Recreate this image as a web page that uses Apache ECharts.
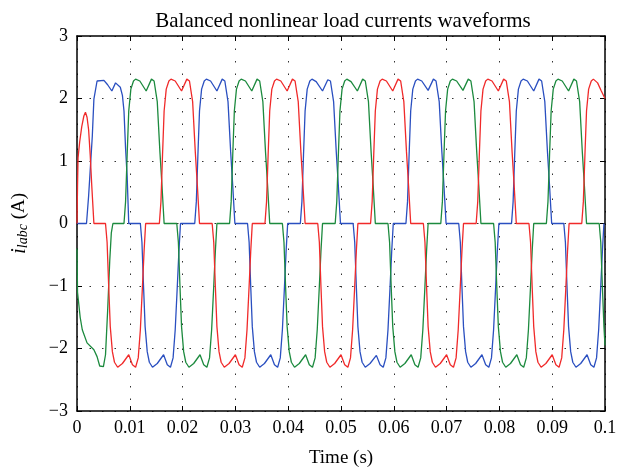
<!DOCTYPE html>
<html>
<head>
<meta charset="utf-8">
<script src="https://cdn.jsdelivr.net/npm/echarts@6/dist/echarts.min.js"></script>
<style>
  html, body { margin: 0; padding: 0; background: #fff; }
  #main { width: 617px; height: 469px; }
</style>
</head>
<body>
<div id="main"></div>
<script>
// time in ms, current in A
const blueCurrent = [
  [0,0],[1.8,0],[2.2,0.44],[2.9,1.4],[3.2,1.99],[3.8,2.28],[5.1,2.29],[5.8,2.22],[6.6,2.12],[7.3,2.25],[8.2,2.18],[8.6,2.05],[8.9,1.8],[9.2,1.2],[9.5,0.75],[9.8,0],
  [12.0,0],[12.3,-0.3],[12.6,-1.0],[12.9,-1.65],[13.3,-2.05],[13.7,-2.22],[14.3,-2.3],[15.2,-2.24],[16.4,-2.1],[17.1,-2.26],[17.7,-2.3],[18.2,-2.15],[18.6,-1.7],[19.0,-1.0],[19.3,-0.45],[19.6,0],
  [22.3,0],[22.6,0.35],[22.9,1.1],[23.2,1.8],[23.6,2.15],[24.1,2.28],[24.5,2.31],[25.3,2.28],[26.5,2.12],[27.5,2.31],[28.0,2.28],[28.6,1.95],[29.1,1.15],[29.5,0.6],[29.9,0],
  [32.3,0],[32.6,-0.3],[32.9,-1.0],[33.2,-1.65],[33.6,-2.05],[34.0,-2.22],[34.6,-2.3],[35.5,-2.24],[36.7,-2.1],[37.4,-2.26],[38.0,-2.3],[38.5,-2.15],[38.9,-1.7],[39.3,-1.0],[39.6,-0.45],[39.9,0],
  [42.3,0],[42.6,0.35],[42.9,1.1],[43.2,1.8],[43.6,2.15],[44.1,2.28],[44.5,2.31],[45.3,2.27],[46.5,2.12],[47.5,2.3],[48.0,2.28],[48.6,1.95],[49.1,1.15],[49.5,0.6],[49.9,0],
  [52.3,0],[52.6,-0.3],[52.9,-1.0],[53.2,-1.65],[53.6,-2.05],[54.0,-2.22],[54.6,-2.3],[55.5,-2.24],[56.7,-2.11],[57.4,-2.26],[58.0,-2.3],[58.5,-2.15],[58.9,-1.7],[59.3,-1.0],[59.6,-0.45],[59.9,0],
  [62.3,0],[62.6,0.35],[62.9,1.1],[63.2,1.8],[63.6,2.15],[64.1,2.28],[64.5,2.31],[65.3,2.28],[66.5,2.13],[67.5,2.31],[68.0,2.28],[68.6,1.95],[69.1,1.15],[69.5,0.6],[69.9,0],
  [72.3,0],[72.6,-0.3],[72.9,-1.0],[73.2,-1.65],[73.6,-2.05],[74.0,-2.22],[74.6,-2.3],[75.5,-2.24],[76.7,-2.1],[77.4,-2.26],[78.0,-2.3],[78.5,-2.15],[78.9,-1.7],[79.3,-1.0],[79.6,-0.45],[79.9,0],
  [82.3,0],[82.6,0.35],[82.9,1.1],[83.2,1.8],[83.6,2.15],[84.1,2.28],[84.5,2.31],[85.3,2.28],[86.5,2.12],[87.5,2.31],[88.0,2.28],[88.6,1.95],[89.1,1.15],[89.5,0.6],[89.9,0],
  [92.2,0],[92.5,-0.3],[92.8,-1.0],[93.1,-1.65],[93.5,-2.05],[93.9,-2.22],[94.5,-2.3],[95.4,-2.24],[96.6,-2.1],[97.3,-2.26],[97.9,-2.3],[98.4,-2.15],[98.8,-1.7],[99.2,-1.0],[99.5,-0.45],[99.8,0]
];

const greenCurrent = [
  [0,-0.4],[0.1,-1.1],[0.6,-1.5],[1.0,-1.7],[1.9,-1.91],[3.2,-2.02],[3.8,-2.13],[4.3,-2.28],[5.0,-2.29],[5.4,-2.1],[5.8,-1.4],[6.2,-0.6],[6.5,-0.15],[6.8,0],
  [8.9,0],[9.2,0.35],[9.5,1.1],[9.8,1.8],[10.2,2.15],[10.7,2.28],[11.1,2.31],[11.9,2.28],[13.1,2.12],[14.1,2.31],[14.6,2.28],[15.2,1.95],[15.7,1.15],[16.1,0.6],[16.5,0],
  [18.9,0],[19.2,-0.3],[19.5,-1.0],[19.8,-1.65],[20.2,-2.05],[20.6,-2.22],[21.2,-2.3],[22.1,-2.24],[23.3,-2.1],[24.0,-2.26],[24.6,-2.3],[25.1,-2.15],[25.5,-1.7],[25.9,-1.0],[26.2,-0.45],[26.5,0],
  [28.9,0],[29.2,0.35],[29.5,1.1],[29.8,1.8],[30.2,2.15],[30.7,2.28],[31.1,2.31],[31.9,2.28],[33.1,2.12],[34.1,2.31],[34.6,2.28],[35.2,1.95],[35.7,1.15],[36.1,0.6],[36.5,0],
  [38.9,0],[39.2,-0.3],[39.5,-1.0],[39.8,-1.65],[40.2,-2.05],[40.6,-2.22],[41.2,-2.3],[42.1,-2.24],[43.3,-2.1],[44.0,-2.26],[44.6,-2.3],[45.1,-2.15],[45.5,-1.7],[45.9,-1.0],[46.2,-0.45],[46.5,0],
  [48.9,0],[49.2,0.35],[49.5,1.1],[49.8,1.8],[50.2,2.15],[50.7,2.28],[51.1,2.31],[51.9,2.27],[53.1,2.12],[54.1,2.31],[54.6,2.28],[55.2,1.95],[55.7,1.15],[56.1,0.6],[56.5,0],
  [58.9,0],[59.2,-0.3],[59.5,-1.0],[59.8,-1.65],[60.2,-2.05],[60.6,-2.22],[61.2,-2.3],[62.1,-2.24],[63.3,-2.1],[64.0,-2.26],[64.6,-2.3],[65.1,-2.15],[65.5,-1.7],[65.9,-1.0],[66.2,-0.45],[66.5,0],
  [68.9,0],[69.2,0.35],[69.5,1.1],[69.8,1.8],[70.2,2.15],[70.7,2.28],[71.1,2.31],[71.9,2.28],[73.1,2.13],[74.1,2.31],[74.6,2.28],[75.2,1.95],[75.7,1.15],[76.1,0.6],[76.5,0],
  [78.9,0],[79.2,-0.3],[79.5,-1.0],[79.8,-1.65],[80.2,-2.05],[80.6,-2.22],[81.2,-2.3],[82.1,-2.24],[83.3,-2.1],[84.0,-2.26],[84.6,-2.3],[85.1,-2.15],[85.5,-1.7],[85.9,-1.0],[86.2,-0.45],[86.5,0],
  [88.9,0],[89.2,0.35],[89.5,1.1],[89.8,1.8],[90.2,2.15],[90.7,2.28],[91.1,2.31],[91.9,2.28],[93.1,2.12],[94.1,2.31],[94.6,2.28],[95.2,1.95],[95.7,1.15],[96.1,0.6],[96.5,0],
  [98.9,0],[99.2,-0.3],[99.5,-1.0],[99.8,-1.65],[100,-1.95]
];

const redCurrent = [
  [0,0],[0.1,0.6],[0.2,1.05],[0.5,1.3],[0.9,1.55],[1.3,1.72],[1.6,1.78],[1.9,1.7],[2.2,1.5],[2.5,1.1],[2.8,0.6],[3.2,0],
  [5.4,0],[5.7,-0.3],[6.0,-1.0],[6.3,-1.65],[6.7,-2.05],[7.1,-2.22],[7.7,-2.3],[8.6,-2.24],[9.8,-2.1],[10.5,-2.26],[11.1,-2.3],[11.6,-2.15],[12.0,-1.7],[12.4,-1.0],[12.7,-0.45],[13.0,0],
  [15.6,0],[15.9,0.35],[16.2,1.1],[16.5,1.8],[16.9,2.15],[17.4,2.28],[17.8,2.31],[18.6,2.28],[19.8,2.12],[20.8,2.31],[21.3,2.28],[21.9,1.95],[22.4,1.15],[22.8,0.6],[23.2,0],
  [25.6,0],[25.9,-0.3],[26.2,-1.0],[26.5,-1.65],[26.9,-2.05],[27.3,-2.22],[27.9,-2.3],[28.8,-2.24],[30.0,-2.1],[30.7,-2.26],[31.3,-2.3],[31.8,-2.15],[32.2,-1.7],[32.6,-1.0],[32.9,-0.45],[33.2,0],
  [35.6,0],[35.9,0.35],[36.2,1.1],[36.5,1.8],[36.9,2.15],[37.4,2.28],[37.8,2.31],[38.6,2.28],[39.8,2.12],[40.8,2.31],[41.3,2.28],[41.9,1.95],[42.4,1.15],[42.8,0.6],[43.2,0],
  [45.6,0],[45.9,-0.3],[46.2,-1.0],[46.5,-1.65],[46.9,-2.05],[47.3,-2.22],[47.9,-2.3],[48.8,-2.24],[50.0,-2.1],[50.7,-2.26],[51.3,-2.3],[51.8,-2.15],[52.2,-1.7],[52.6,-1.0],[52.9,-0.45],[53.2,0],
  [55.6,0],[55.9,0.35],[56.2,1.1],[56.5,1.8],[56.9,2.15],[57.4,2.28],[57.8,2.31],[58.6,2.28],[59.8,2.12],[60.8,2.31],[61.3,2.28],[61.9,1.95],[62.4,1.15],[62.8,0.6],[63.2,0],
  [65.6,0],[65.9,-0.3],[66.2,-1.0],[66.5,-1.65],[66.9,-2.05],[67.3,-2.22],[67.9,-2.3],[68.8,-2.24],[70.0,-2.1],[70.7,-2.26],[71.3,-2.3],[71.8,-2.15],[72.2,-1.7],[72.6,-1.0],[72.9,-0.45],[73.2,0],
  [75.6,0],[75.9,0.35],[76.2,1.1],[76.5,1.8],[76.9,2.15],[77.4,2.28],[77.8,2.31],[78.6,2.28],[79.8,2.12],[80.8,2.31],[81.3,2.28],[81.9,1.95],[82.4,1.15],[82.8,0.6],[83.2,0],
  [85.6,0],[85.9,-0.3],[86.2,-1.0],[86.5,-1.65],[86.9,-2.05],[87.3,-2.22],[87.9,-2.3],[88.8,-2.24],[90.0,-2.1],[90.7,-2.26],[91.3,-2.3],[91.8,-2.15],[92.2,-1.7],[92.6,-1.0],[92.9,-0.45],[93.2,0],
  [95.6,0],[95.9,0.35],[96.2,1.1],[96.5,1.8],[96.9,2.15],[97.4,2.28],[97.8,2.31],[98.6,2.25],[99.3,2.12],[100,2.0]
];

const xTicks = [0, 0.01, 0.02, 0.03, 0.04, 0.05, 0.06, 0.07, 0.08, 0.09, 0.1];
const yTicks = [-3, -2, -1, 0, 1, 2, 3];

const font = '"Liberation Serif", "DejaVu Serif", serif';
const toSeconds = arr => arr.map(p => [p[0] / 1000, p[1]]);

const myChart = echarts.init(document.getElementById('main'), null, { renderer: 'canvas' });

const dotted = { type: [1.5, 11], color: '#333', width: 1 };
const frame = { show: true, onZero: false, lineStyle: { color: '#000', width: 1.5 } };
const tickIn = { show: true, inside: true, length: 5, lineStyle: { color: '#000', width: 1 } };

const option = {
  animation: false,
  backgroundColor: '#fff',
  title: {
    text: 'Balanced nonlinear load currents waveforms',
    left: 338,
    textAlign: 'center',
    top: 6,
    textStyle: { fontFamily: font, fontWeight: 'normal', fontSize: 21, color: '#000' }
  },
  grid: { left: 77, right: 12, top: 36, bottom: 58, outerBoundsMode: 'none' },
  xAxis: [{
    type: 'value',
    min: xTicks[0], max: xTicks[xTicks.length - 1], interval: 0.01,
    name: 'Time (s)', nameLocation: 'middle', nameGap: 38,
    nameTextStyle: { fontFamily: font, fontSize: 19, color: '#000' },
    axisLine: frame, axisTick: tickIn,
    axisLabel: { fontFamily: font, fontSize: 18, color: '#000', margin: 8,
      formatter: v => String(+v.toFixed(2)) },
    splitLine: { show: true, lineStyle: dotted }
  }, {
    type: 'value', position: 'top',
    min: xTicks[0], max: xTicks[xTicks.length - 1], interval: 0.01,
    axisLine: frame, axisTick: tickIn, axisLabel: { show: false }, splitLine: { show: false }
  }],
  yAxis: [{
    type: 'value',
    min: yTicks[0], max: yTicks[yTicks.length - 1], interval: 1,
    name: '{i|i}{s|labc} (A)', nameLocation: 'middle', nameGap: 47, nameRotate: 90,
    nameTextStyle: {
      fontFamily: font, fontSize: 19, color: '#000',
      rich: {
        i: { fontFamily: font, fontSize: 21, fontStyle: 'italic', color: '#000' },
        s: { fontFamily: font, fontSize: 14, fontStyle: 'italic', color: '#000', verticalAlign: 'bottom', padding: [8, 0, 0, 0] }
      }
    },
    axisLine: frame, axisTick: tickIn,
    axisLabel: { fontFamily: font, fontSize: 18, color: '#000', margin: 9,
      formatter: v => String(v).replace('-', '\u2212') },
    splitLine: { show: true, lineStyle: dotted }
  }, {
    type: 'value', position: 'right',
    min: yTicks[0], max: yTicks[yTicks.length - 1], interval: 1,
    axisLine: frame, axisTick: tickIn, axisLabel: { show: false }, splitLine: { show: false }
  }],
  series: [
    { name: 'ib', type: 'line', data: toSeconds(blueCurrent), showSymbol: false,
      lineStyle: { color: '#2a4fc0', width: 1.3 } },
    { name: 'ic', type: 'line', data: toSeconds(greenCurrent), showSymbol: false,
      lineStyle: { color: '#1c8a3e', width: 1.3 } },
    { name: 'ia', type: 'line', data: toSeconds(redCurrent), showSymbol: false,
      lineStyle: { color: '#f02a2a', width: 1.3 } }
  ]
};

myChart.setOption(option);
</script>
</body>
</html>
